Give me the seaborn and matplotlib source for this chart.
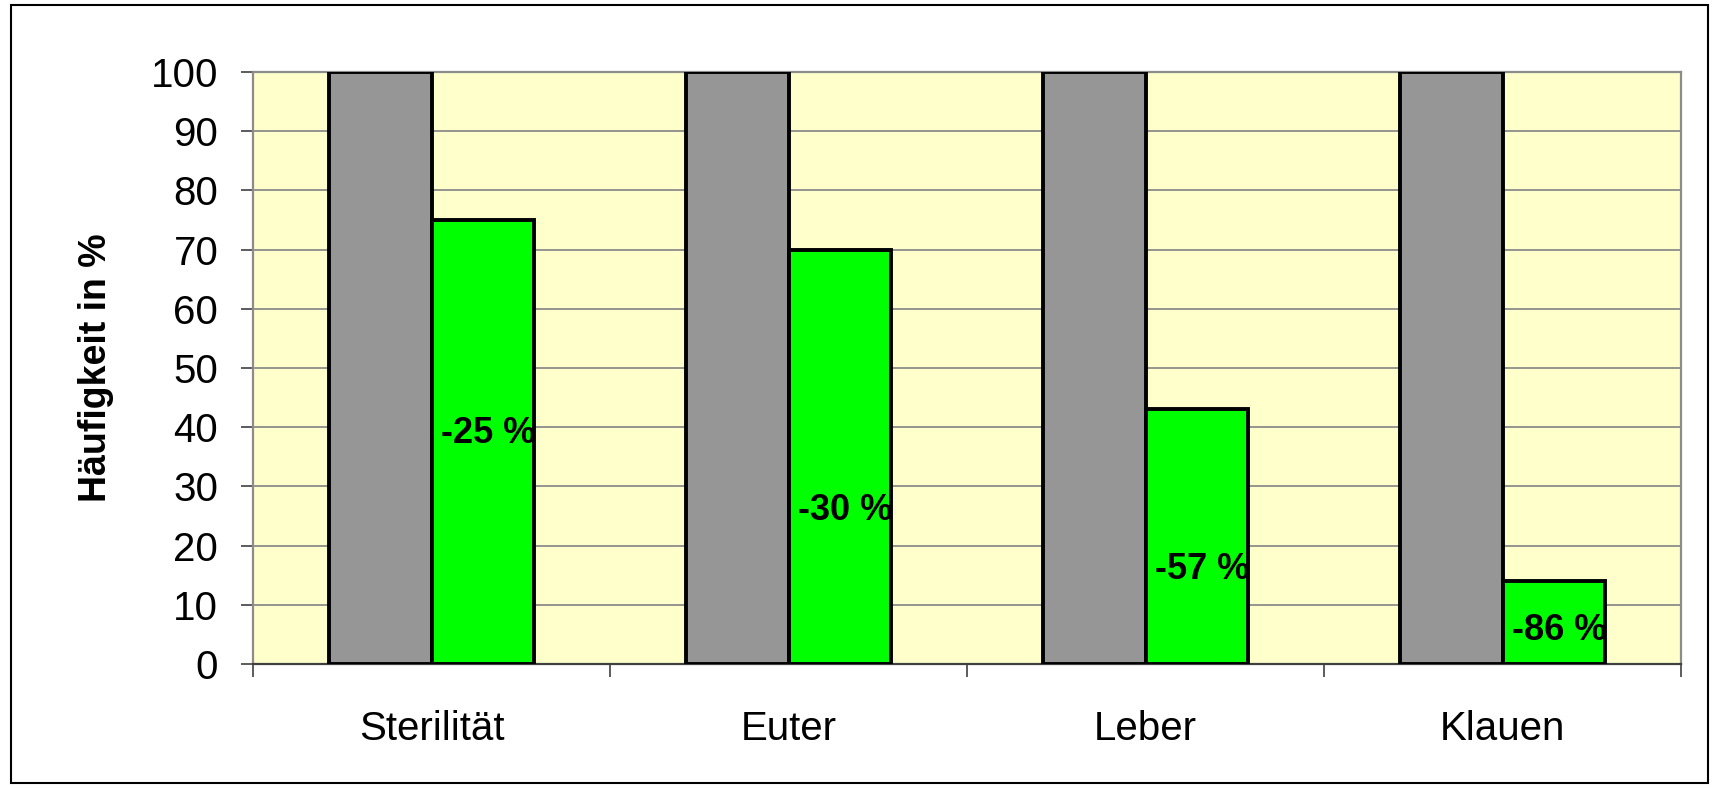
import matplotlib
matplotlib.use("Agg")
import matplotlib.pyplot as plt
import seaborn as sns
import pandas as pd
from matplotlib.patches import Rectangle

categories = ["Sterilität", "Euter", "Leber", "Klauen"]
series_names = ["vorher", "nachher"]
before_values = [100, 100, 100, 100]
after_values = [75, 70, 43, 14]
change_labels = ["-25 %", "-30 %", "-57 %", "-86 %"]
label_heights = [39, 26, 16, 5.6]
y_ticks = [0, 10, 20, 30, 40, 50, 60, 70, 80, 90, 100]

df = pd.DataFrame({
    "Kategorie": categories * 2,
    "Serie": [series_names[0]] * len(categories) + [series_names[1]] * len(categories),
    "Wert": before_values + after_values,
})

sns.set_theme(style="white")
plt.rcParams["font.family"] = ["Liberation Sans", "DejaVu Sans"]
plt.rcParams["text.color"] = "black"
plt.rcParams["xtick.color"] = "black"
plt.rcParams["ytick.color"] = "black"
plt.rcParams["axes.labelcolor"] = "black"

fig = plt.figure(figsize=(17.17, 7.88), dpi=100)
ax = fig.add_axes([253 / 1717, 1 - 664 / 788, 1428 / 1717, 592 / 788])
ax.set_facecolor("#FFFFCC")

sns.barplot(data=df, x="Kategorie", y="Wert", hue="Serie",
            palette=["#969696", "#00FF00"], saturation=1, width=0.577, gap=0,
            edgecolor="black", linewidth=2.8, legend=False, ax=ax,
            zorder=3)

ax.set_xlim(-0.5, len(categories) - 0.5)
ax.set_ylim(0, 100)
ax.set_yticks(y_ticks)
ax.set_yticklabels([str(t) for t in y_ticks], fontsize=29)
ax.yaxis.grid(True, color="#8c8c8c", linewidth=1.3, zorder=0)
ax.set_axisbelow(True)

# x ticks: labels at category centers, tick marks at category boundaries
ax.set_xticks(range(len(categories)))
ax.set_xticklabels(categories, fontsize=29)
ax.set_xticks([i - 0.5 for i in range(len(categories) + 1)], minor=True)
ax.tick_params(axis="x", which="major", length=0, pad=33)
ax.tick_params(axis="x", which="minor", length=9, width=1.2, color="#404040", direction="out", bottom=True)
ax.tick_params(axis="y", which="major", length=9, width=1.2, color="#404040", direction="out", left=True, pad=16)
ax.set_xlabel("")
ax.set_ylabel("Häufigkeit in %", fontsize=27, fontweight="bold")
ax.yaxis.set_label_coords(-0.097, 0.5)

for side in ["top", "right", "left", "bottom"]:
    ax.spines[side].set_visible(True)
    ax.spines[side].set_color("#8c8c8c")
    ax.spines[side].set_linewidth(1.6)
ax.spines["bottom"].set_color("#404040")

# data labels on green bars
green_bars = ax.containers[1]
for patch, txt, yv in zip(green_bars, change_labels, label_heights):
    cx = patch.get_x() + patch.get_width() / 2
    ax.text(cx + 0.015, yv, txt, ha="center", va="center", fontsize=26,
            fontweight="bold", color="black", zorder=5)

# outer chart border
fig.patches.append(Rectangle((11 / 1717, 5 / 788), 1697 / 1717, 778 / 788,
                             transform=fig.transFigure, fill=False,
                             edgecolor="black", linewidth=1.5))

fig.savefig("out.png", dpi=100)
